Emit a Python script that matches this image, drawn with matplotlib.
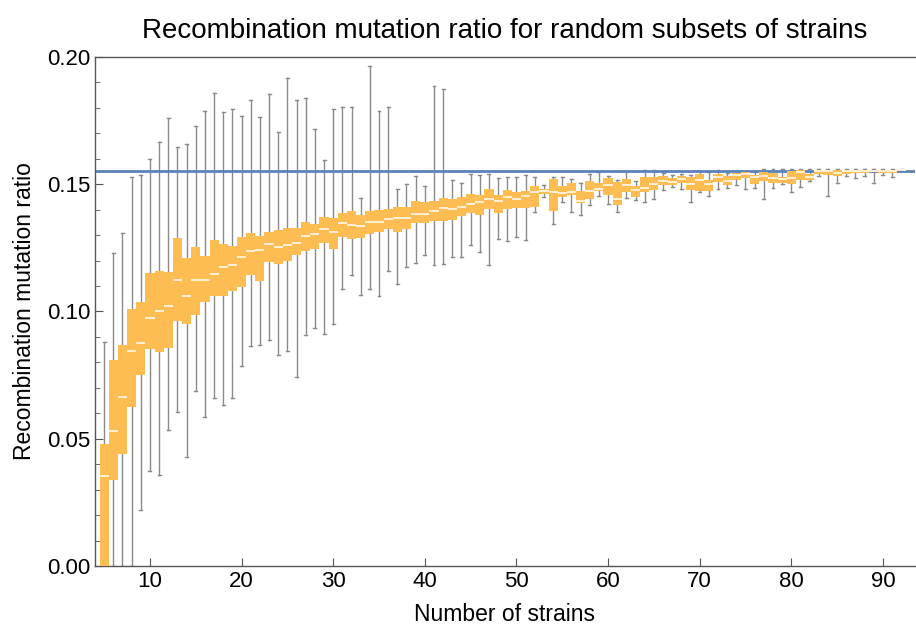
import matplotlib
matplotlib.use("Agg")
import matplotlib.pyplot as plt
from matplotlib.ticker import MultipleLocator

plt.rcParams["font.family"] = ["Liberation Sans", "DejaVu Sans"]

# ---- data ----
n_strains = list(range(5, 93))

whisker_lo = [
    0.0000, 0.0000, 0.0000, 0.0000, 0.0219, 0.0373, 0.0356, 0.0536, 0.0606, 0.0427,
    0.0689, 0.0584, 0.0659, 0.0634, 0.0659, 0.0785, 0.0863, 0.0870, 0.0887, 0.0829,
    0.0845, 0.0743, 0.0908, 0.0935, 0.0913, 0.0951, 0.1090, 0.1143, 0.1064, 0.1090,
    0.1061, 0.1158, 0.1107, 0.1173, 0.1192, 0.1221, 0.1181, 0.1188, 0.1213, 0.1214,
    0.1261, 0.1234, 0.1183, 0.1284, 0.1277, 0.1292, 0.1280, 0.1390, 0.1449, 0.1343,
    0.1429, 0.1390, 0.1379, 0.1417, 0.1454, 0.1421, 0.1392, 0.1445, 0.1438, 0.1430,
    0.1441, 0.1476, 0.1489, 0.1481, 0.1432, 0.1468, 0.1455, 0.1480, 0.1484, 0.1497,
    0.1481, 0.1486, 0.1441, 0.1484, 0.1501, 0.1471, 0.1488, 0.1514, 0.1532, 0.1454,
    0.1504, 0.1532, 0.1523, 0.1532, 0.1504, 0.1536, 0.1530, 0.1553,
]
q1 = [
    0.0000, 0.0339, 0.0441, 0.0624, 0.0752, 0.0853, 0.0840, 0.0855, 0.0963, 0.0952,
    0.0985, 0.1039, 0.1060, 0.1060, 0.1082, 0.1098, 0.1143, 0.1119, 0.1193, 0.1185,
    0.1200, 0.1221, 0.1237, 0.1247, 0.1268, 0.1247, 0.1292, 0.1286, 0.1288, 0.1306,
    0.1314, 0.1325, 0.1312, 0.1324, 0.1348, 0.1347, 0.1356, 0.1356, 0.1360, 0.1376,
    0.1386, 0.1380, 0.1402, 0.1386, 0.1404, 0.1405, 0.1407, 0.1412, 0.1463, 0.1396,
    0.1451, 0.1458, 0.1425, 0.1441, 0.1473, 0.1459, 0.1418, 0.1471, 0.1451, 0.1470,
    0.1479, 0.1497, 0.1497, 0.1504, 0.1479, 0.1475, 0.1473, 0.1510, 0.1497, 0.1517,
    0.1523, 0.1501, 0.1512, 0.1504, 0.1506, 0.1501, 0.1517, 0.1517, 0.1540, 0.1536,
    0.1532, 0.1540, 0.1543, 0.1545, 0.1549, 0.1545, 0.1545, 0.1555,
]
median = [
    0.0355, 0.0532, 0.0664, 0.0846, 0.0877, 0.0973, 0.1001, 0.1020, 0.1123, 0.1060,
    0.1123, 0.1123, 0.1146, 0.1174, 0.1181, 0.1214, 0.1238, 0.1240, 0.1264, 0.1255,
    0.1261, 0.1268, 0.1296, 0.1303, 0.1323, 0.1311, 0.1348, 0.1341, 0.1335, 0.1353,
    0.1351, 0.1365, 0.1367, 0.1369, 0.1384, 0.1382, 0.1394, 0.1407, 0.1403, 0.1412,
    0.1421, 0.1429, 0.1441, 0.1435, 0.1449, 0.1441, 0.1453, 0.1468, 0.1472, 0.1468,
    0.1466, 0.1471, 0.1434, 0.1472, 0.1483, 0.1496, 0.1444, 0.1496, 0.1477, 0.1487,
    0.1500, 0.1513, 0.1510, 0.1520, 0.1502, 0.1517, 0.1501, 0.1530, 0.1514, 0.1536,
    0.1540, 0.1530, 0.1532, 0.1523, 0.1519, 0.1523, 0.1547, 0.1527, 0.1551, 0.1553,
    0.1543, 0.1551, 0.1551, 0.1553, 0.1553, 0.1552, 0.1552, 0.1557,
]
q3 = [
    0.0478, 0.0808, 0.0867, 0.1009, 0.1037, 0.1153, 0.1159, 0.1157, 0.1288, 0.1209,
    0.1252, 0.1218, 0.1280, 0.1265, 0.1256, 0.1292, 0.1307, 0.1297, 0.1314, 0.1320,
    0.1328, 0.1329, 0.1353, 0.1345, 0.1370, 0.1369, 0.1386, 0.1394, 0.1379, 0.1394,
    0.1398, 0.1404, 0.1411, 0.1411, 0.1434, 0.1431, 0.1433, 0.1445, 0.1441, 0.1449,
    0.1463, 0.1457, 0.1481, 0.1458, 0.1477, 0.1471, 0.1473, 0.1494, 0.1481, 0.1519,
    0.1493, 0.1505, 0.1472, 0.1513, 0.1504, 0.1523, 0.1508, 0.1519, 0.1493, 0.1527,
    0.1527, 0.1534, 0.1523, 0.1532, 0.1528, 0.1540, 0.1517, 0.1540, 0.1532, 0.1543,
    0.1547, 0.1536, 0.1547, 0.1543, 0.1527, 0.1552, 0.1556, 0.1540, 0.1556, 0.1556,
    0.1556, 0.1556, 0.1556, 0.1556, 0.1556, 0.1556, 0.1556, 0.1559,
]
whisker_hi = [
    0.0879, 0.1230, 0.1310, 0.1527, 0.1535, 0.1600, 0.1667, 0.1759, 0.1648, 0.1657,
    0.1728, 0.1787, 0.1859, 0.1783, 0.1795, 0.1767, 0.1832, 0.1764, 0.1853, 0.1707,
    0.1917, 0.1832, 0.1838, 0.1716, 0.1594, 0.1795, 0.1802, 0.1805, 0.1445, 0.1963,
    0.1789, 0.1802, 0.1483, 0.1501, 0.1534, 0.1493, 0.1887, 0.1876, 0.1518, 0.1506,
    0.1539, 0.1535, 0.1539, 0.1523, 0.1527, 0.1530, 0.1535, 0.1527, 0.1497, 0.1530,
    0.1530, 0.1522, 0.1504, 0.1539, 0.1547, 0.1532, 0.1518, 0.1553, 0.1512, 0.1557,
    0.1556, 0.1544, 0.1535, 0.1540, 0.1538, 0.1552, 0.1547, 0.1556, 0.1543, 0.1545,
    0.1550, 0.1550, 0.1559, 0.1559, 0.1559, 0.1559, 0.1559, 0.1559, 0.1559, 0.1559,
    0.1559, 0.1559, 0.1559, 0.1559, 0.1559, 0.1559, 0.1559, 0.1559,
]
full_ratio = 0.1551

# ---- colours ----
C_BOX = "#FDBD52"
C_MED = "#FFF4E0"
C_WHISK = "#8A8A8A"
C_LINE = "#5B82B8"
C_FRAME = "#555555"

stats = [
    dict(whislo=lo, q1=a, med=m, q3=b, whishi=hi, fliers=[])
    for lo, a, m, b, hi in zip(whisker_lo, q1, median, q3, whisker_hi)
]

fig = plt.figure(figsize=(9.16, 6.25), dpi=100)
ax = fig.add_axes([0.1037, 0.0944, 0.8952, 0.8144])

ax.axhline(full_ratio, color=C_LINE, lw=2, zorder=2)

ax.bxp(stats, positions=n_strains, widths=1.0, capwidths=0.32,
       patch_artist=True, showfliers=False, manage_ticks=False,
       boxprops=dict(facecolor=C_BOX, edgecolor="none", lw=0, zorder=3),
       medianprops=dict(color=C_MED, lw=1.3, zorder=4),
       whiskerprops=dict(color=C_WHISK, lw=1.0, zorder=1.5),
       capprops=dict(color=C_WHISK, lw=1.0, zorder=1.5))

ax.set_xlim(4.0, 93.5)
ax.set_ylim(0.0, 0.20)
ax.xaxis.set_major_locator(MultipleLocator(10))
ax.yaxis.set_major_locator(MultipleLocator(0.05))
ax.yaxis.set_minor_locator(MultipleLocator(0.01))
ax.yaxis.set_major_formatter(lambda v, p: f"{v:.2f}")

ax.tick_params(which="both", direction="in", colors=C_FRAME, labelcolor="black",
               labelsize=16, top=False, right=False)
ax.tick_params(which="major", length=6)
ax.tick_params(which="minor", length=3.5)
for side in ("left", "bottom", "top"):
    ax.spines[side].set_color(C_FRAME)
    ax.spines[side].set_linewidth(1.0)
ax.spines["right"].set_visible(False)

ax.set_xlabel("Number of strains", fontsize=16.5, labelpad=8)
ax.set_ylabel("Recombination mutation ratio", fontsize=16.5, labelpad=8)
ax.set_title("Recombination mutation ratio for random subsets of strains",
             fontsize=20, pad=14)

fig.savefig("out.png", dpi=100, facecolor="white")
